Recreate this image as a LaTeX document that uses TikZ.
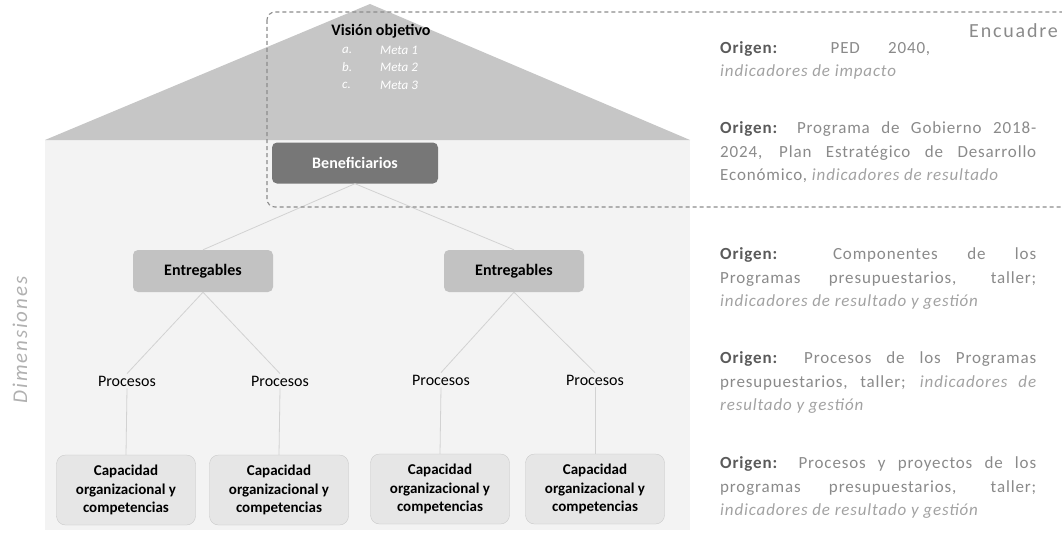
\documentclass[tikz,border=0pt]{standalone}
\usepackage{fontspec}
\setmainfont{Carlito}
\newfontfamily\rtext{Carlito}[LetterSpace=5]
\newfontfamily\wtext{Carlito}[LetterSpace=9]
\definecolor{roofgray}{HTML}{C6C6C6}
\definecolor{bodygray}{HTML}{F3F3F3}
\definecolor{bengray}{HTML}{777777}
\definecolor{entgray}{HTML}{C2C2C2}
\definecolor{capgray}{HTML}{E6E6E6}
\definecolor{dashgray}{HTML}{8C8C8C}
\definecolor{linkgray}{HTML}{D2D2D2}
\definecolor{origc}{HTML}{5A5A5A}
\definecolor{regc}{HTML}{8A8A8A}
\definecolor{itc}{HTML}{A2A2A2}
\newcommand\JustLine[1]{\hbox to 316pt{#1}}
\newcommand\ShortLine[1]{\hbox to 210pt{#1}}
\newcommand\PlainLine[1]{\hbox{#1}}
\newcommand\Org{{\bfseries\color{origc}Origen:}}
\newcommand\It[1]{{\itshape\color{itc}#1}}
\tikzset{
  benef/.style={rounded corners=5pt, fill=bengray, minimum width=166pt, minimum height=41pt, text=white, font=\fontsize{16}{19}\selectfont\bfseries},
  entbox/.style={rounded corners=5pt, fill=entgray, minimum width=140pt, minimum height=42pt, font=\fontsize{16}{19}\selectfont\bfseries},
  capbox/.style={rounded corners=9pt, fill=capgray, draw=capgray!85!black, line width=0.3pt, minimum width=139pt, minimum height=70pt, align=center, font=\fontsize{15}{18.5}\selectfont\bfseries},
  proc/.style={font=\fontsize{16}{19}\selectfont, inner sep=2pt},
  link/.style={draw=linkgray, line width=0.8pt},
  dashbox/.style={draw=dashgray, line width=1.1pt, dash pattern=on 4pt off 3pt, rounded corners=8pt},
  meta/.style={text=white, font=\fontsize{13}{15}\selectfont\itshape, inner sep=0pt},
  rblock/.style={inner sep=0pt, anchor=base west, text=regc, font=\rtext\fontsize{17}{23.5}\selectfont},
}
\begin{document}
\begin{tikzpicture}[x=1pt,y=-1pt]
\useasboundingbox (0,0) rectangle (1062,535);
\clip (0,0) rectangle (1062,535);
% house body and roof
\fill[bodygray] (45,140) rectangle (690,530);
\fill[roofgray] (45,140) -- (370,4) -- (690,140) -- cycle;
% roof text
\node[font=\fontsize{16}{19}\selectfont\bfseries] (vis) at (381,31) {Visión objetivo};
\node[meta, anchor=west] (ma) at (342,50) {a.};
\node[meta, anchor=west] (mb) at (342,67) {b.};
\node[meta, anchor=west] (mc) at (342,85) {c.};
\node[meta, anchor=west] (m1) at (380,50) {Meta 1};
\node[meta, anchor=west] (m2) at (380,67) {Meta 2};
\node[meta, anchor=west] (m3) at (380,85) {Meta 3};
% nodes
\node[benef] (ben) at (355,163) {Beneficiarios};
\node[entbox] (e1) at (203,271) {Entregables};
\node[entbox] (e2) at (514,271) {Entregables};
\node[proc] (p1) at (127,381) {Procesos};
\node[proc] (p2) at (280,381) {Procesos};
\node[proc] (p3) at (441,380) {Procesos};
\node[proc] (p4) at (595,380) {Procesos};
\node[capbox] (c1) at (126,490) {Capacidad\\organizacional y\\competencias};
\node[capbox] (c2) at (279,490) {Capacidad\\organizacional y\\competencias};
\node[capbox] (c3) at (440,489) {Capacidad\\organizacional y\\competencias};
\node[capbox] (c4) at (595,489) {Capacidad\\organizacional y\\competencias};
% connectors
\draw[link] (ben.south) -- (e1.north);
\draw[link] (ben.south) -- (e2.north);
\draw[link] (e1.south) -- (p1.north);
\draw[link] (e1.south) -- (p2.north);
\draw[link] (e2.south) -- (p3.north);
\draw[link] (e2.south) -- (p4.north);
\draw[link] (p1.south) -- (c1.north);
\draw[link] (p2.south) -- (c2.north);
\draw[link] (p3.south) -- (c3.north);
\draw[link] (p4.south) -- (c4.north);
% framing box
\draw[dashbox] (267,12) rectangle (1085,207);
\node[anchor=east, text=regc, font=\wtext\fontsize{20}{22}\selectfont, inner sep=0pt] (enc) at (1058,31) {Encuadre};
% side label
\node[rotate=90, text=itc!85!white, font=\wtext\fontsize{21}{24}\selectfont\itshape] (dim) at (20,340) {Dimensiones};
% right text
\node[rblock] (o1) at (720,53.5) {\vtop{\ShortLine{\Org{} PED 2040,}\PlainLine{\It{indicadores de impacto}}}};
\node[rblock] (o2) at (720,133.5) {\vtop{\JustLine{\Org{} Programa de Gobierno 2018-}\JustLine{2024, Plan Estratégico de Desarrollo}\PlainLine{Económico, \It{indicadores de resultado}}}};
\node[rblock] (o3) at (720,259.5) {\vtop{\JustLine{\Org{} Componentes de los}\JustLine{Programas presupuestarios, taller;}\PlainLine{\It{indicadores de resultado y gestión}}}};
\node[rblock] (o4) at (720,363.5) {\vtop{\JustLine{\Org{} Procesos de los Programas}\JustLine{presupuestarios, taller; \It{indicadores de}}\PlainLine{\It{resultado y gestión}}}};
\node[rblock] (o5) at (720,468.5) {\vtop{\JustLine{\Org{} Procesos y proyectos de los}\JustLine{programas presupuestarios, taller;}\PlainLine{\It{indicadores de resultado y gestión}}}};
\end{tikzpicture}
\end{document}
